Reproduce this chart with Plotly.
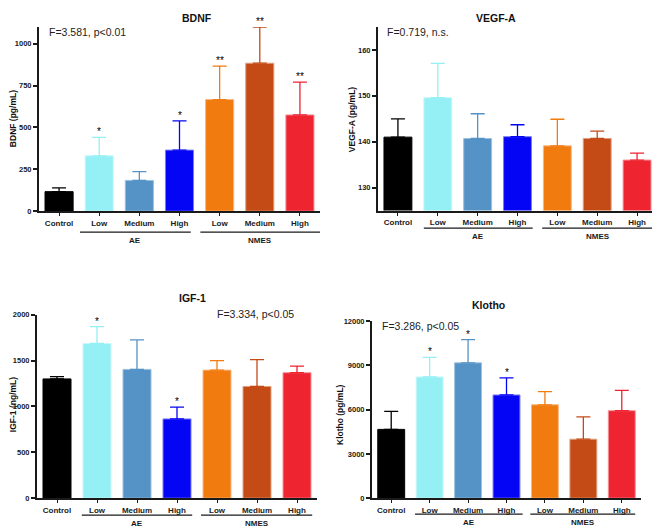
import plotly.graph_objects as go

categories = ['Control', 'Low', 'Medium', 'High', 'Low', 'Medium', 'High']
groups = ['AE', 'NMES']

bdnf_mean = [117, 331, 184, 365, 667, 884, 575]
bdnf_sem = [22, 110, 53, 174, 200, 216, 196]
bdnf_sig = ['', '*', '', '*', '**', '**', '**']

vegf_mean = [141.0, 149.6, 140.7, 141.1, 139.1, 140.7, 136.0]
vegf_sem = [4.0, 7.5, 5.4, 2.6, 5.8, 1.6, 1.5]
vegf_sig = ['', '', '', '', '', '', '']

igf_mean = [1300, 1686, 1404, 864, 1396, 1218, 1368]
igf_sem = [25, 185, 321, 129, 104, 293, 71]
igf_sig = ['', '*', '', '*', '', '', '']

klotho_mean = [4658, 8207, 9161, 6987, 6322, 3993, 5922]
klotho_sem = [1220, 1331, 1575, 1153, 887, 1508, 1376]
klotho_sig = ['', '*', '*', '*', '', '', '']

colors = ['#000000', '#94F0F4', '#5592C5', '#0505F5', '#F27B10', '#C44B16', '#EE2431']
edges = ['#000000', '#C8F8FA', '#9CC0DE', '#7A7AFA', '#F8B888', '#E0A080', '#F69098']

# the page body has an 8px margin, so the figure is placed 8px in
W, H, OFF = 660, 532, 8
FW, FH = W - OFF, H - OFF
FONT = 'Arial, Liberation Sans, sans-serif'

# name, mean, sem, sig, yrange, ticks, ytitle, stats text,
# pixel box (x0, x1, ybottom, ytop), title y, stats pos, ytitle pos, group spans, group line y
panels = [
    ('BDNF', bdnf_mean, bdnf_sem, bdnf_sig, [0, 1100], [0, 250, 500, 750, 1000],
     'BDNF (pg/mL)', 'F=3.581, p<0.01', (39, 320, 210.7, 23.3), 7, (47, 28), (8, 117),
     [(0.52, 3.28), (3.52, 6.5)], 232),
    ('VEGF-A', vegf_mean, vegf_sem, vegf_sig, [125, 165], [130, 140, 150, 160],
     'VEGF-A (pg/mL)', 'F=0.719, n.s.', (378, 657, 210, 23.3), 7, (385, 28), (352, 117),
     [(0.65, 3.38), (3.62, 6.4)], 228),
    ('IGF-1', igf_mean, igf_sem, igf_sig, [0, 2000], [0, 500, 1000, 1500, 2000],
     'IGF-1 (ng/mL)', 'F=3.334, p<0.05', (37, 317, 502.7, 316), 299, (215, 315), (6, 408),
     [(0.62, 3.38), (3.6, 6.38)], 520),
    ('Klotho', klotho_mean, klotho_sem, klotho_sig, [0, 12000], [0, 3000, 6000, 9000, 12000],
     'Klotho (pg/mL)', 'F=3.286, p<0.05', (372, 641, 502.7, 322.3), 306, (380, 327), (340, 417),
     [(0.62, 3.42), (3.62, 6.35)], 519),
]


def px_x(v):
    return (v - OFF) / FW


def px_y(v):
    return 1 - (v - OFF) / FH


fig = go.Figure()
annotations = []
shapes = []
layout = {}

for k, (name, mean, sem, sig, yr, yt, ytitle, stat, box, ty, spos, tpos, spans, gy) in enumerate(panels):
    n = '' if k == 0 else str(k + 1)
    xa, ya = 'x' + n, 'y' + n
    for i in range(len(categories)):
        fig.add_trace(go.Bar(
            x=[i], y=[mean[i]], width=0.7, xaxis=xa, yaxis=ya,
            marker=dict(color=colors[i], line=dict(color=edges[i], width=1)),
            error_y=dict(type='data', array=[sem[i]], arrayminus=[0], symmetric=False,
                         color=colors[i], thickness=1.3, width=7),
            showlegend=False, hoverinfo='y'))
        if sig[i]:
            annotations.append(dict(x=i, y=mean[i] + sem[i], xref=xa, yref=ya, text=sig[i],
                                    showarrow=False, yanchor='bottom', yshift=-2,
                                    font=dict(family=FONT, size=10, color='#000000')))
    x0, x1, yb, ytp = box
    layout['xaxis' + n] = dict(
        domain=[px_x(x0), px_x(x1)], anchor=ya, range=[-0.5, 6.5],
        tickvals=list(range(len(categories))), ticktext=categories,
        showline=True, linecolor='#1a1a1a', linewidth=2, ticks='outside', ticklen=3,
        tickwidth=1.2, tickcolor='#1a1a1a', showgrid=False, zeroline=False,
        tickfont=dict(family=FONT, size=8, color='#1a1a1a', weight='bold'))
    layout['yaxis' + n] = dict(
        domain=[px_y(yb), px_y(ytp)], anchor=xa, range=yr, tickvals=yt, tickformat='d',
        showline=True, linecolor='#1a1a1a', linewidth=2, ticks='outside', ticklen=4,
        tickwidth=1.5, tickcolor='#1a1a1a', showgrid=False, zeroline=False,
        tickfont=dict(family=FONT, size=7.5, color='#1a1a1a', weight='bold'))
    ty_fig = max(ty, OFF + 6)
    annotations.append(dict(x=px_x((x0 + x1) / 2), y=px_y(ty_fig), xref='paper', yref='paper',
                            text='<b>' + name + '</b>', showarrow=False, yanchor='middle',
                            font=dict(family=FONT, size=10.5, color='#111')))
    annotations.append(dict(x=px_x(spos[0]), y=px_y(spos[1]), xref='paper', yref='paper',
                            text=stat, showarrow=False, xanchor='left', yanchor='middle',
                            font=dict(family=FONT, size=10.5, color='#222')))
    annotations.append(dict(x=px_x(max(tpos[0], OFF + 5)), y=px_y(tpos[1]), xref='paper', yref='paper',
                            text='<b>' + ytitle + '</b>', showarrow=False, textangle=-90,
                            xanchor='center', yanchor='middle',
                            font=dict(family=FONT, size=8.5, color='#111')))
    for g, (s0, s1) in zip(groups, spans):
        shapes.append(dict(type='line', xref=xa, yref='paper', x0=s0, x1=s1,
                           y0=px_y(gy), y1=px_y(gy), line=dict(color='#1a1a1a', width=1.3)))
        annotations.append(dict(x=(s0 + s1) / 2, y=px_y(gy + 8), xref=xa, yref='paper',
                                text='<b>' + g + '</b>', showarrow=False, yanchor='middle',
                                font=dict(family=FONT, size=8, color='#1a1a1a')))

fig.update_layout(
    width=FW, height=FH, margin=dict(l=0, r=0, t=0, b=0),
    paper_bgcolor='white', plot_bgcolor='white', barmode='overlay',
    annotations=annotations, shapes=shapes, **layout)

fig.write_html('out.html')
